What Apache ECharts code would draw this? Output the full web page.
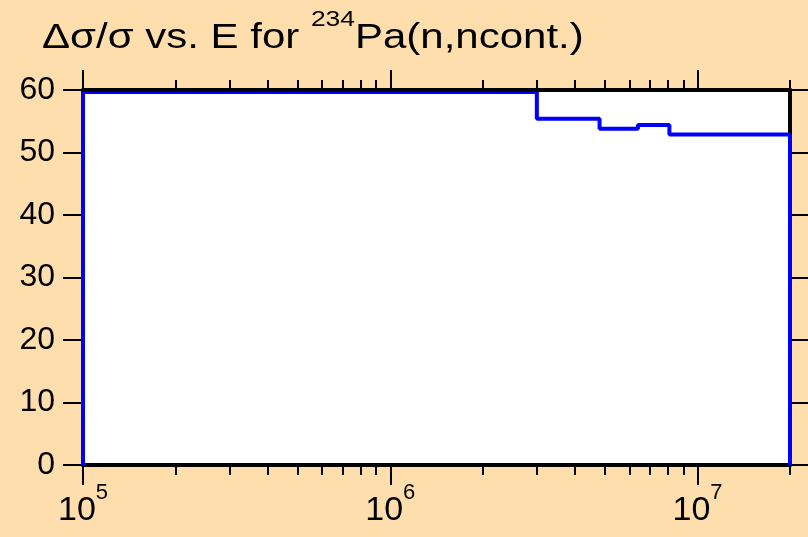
<!DOCTYPE html>
<html>
<head>
<meta charset="utf-8">
<script src="https://cdn.jsdelivr.net/npm/echarts@6/dist/echarts.min.js"></script>
<style>
  html, body { margin: 0; padding: 0; background: #ffdead; }
  #chart { width: 808px; height: 537px; }
</style>
</head>
<body>
<div id="chart"></div>
<script>
// bin edges (eV) and relative uncertainty (%) per bin
const energyEdges = [1e5, 3e6, 4.8e6, 6.4e6, 8.1e6, 2e7];
const relUncert = [59.7, 55.4, 53.8, 54.4, 52.9];

const majorTicks = [1e5, 1e6, 1e7];
const minorTicks = [2e5, 3e5, 4e5, 5e5, 6e5, 7e5, 8e5, 9e5,
  2e6, 3e6, 4e6, 5e6, 6e6, 7e6, 8e6, 9e6, 2e7];
const yTicks = [0, 10, 20, 30, 40, 50, 60];

const FONT = 'Liberation Sans, Arial, sans-serif';

// step outline: closed at both ends down to zero
const stepData = [[energyEdges[0], 0]];
relUncert.forEach((v, i) => stepData.push([energyEdges[i], v]));
stepData.push([energyEdges[energyEdges.length - 1], relUncert[relUncert.length - 1]]);
stepData.push([energyEdges[energyEdges.length - 1], 0]);

const chart = echarts.init(document.getElementById('chart'));

function logAxis(pos, ticks, len, showLine, labels) {
  return {
    type: 'log',
    logBase: 10,
    position: pos,
    min: energyEdges[0],
    max: energyEdges[energyEdges.length - 1],
    z: pos === 'top' ? 5 : 0,
    axisLine: { show: showLine, onZero: false, lineStyle: { color: '#000', width: 4 } },
    axisTick: { show: true, inside: false, length: len, customValues: ticks,
      lineStyle: { color: '#000', width: 2 } },
    axisLabel: labels ? {
      customValues: majorTicks,
      margin: 17,
      color: '#000',
      fontFamily: FONT,
      formatter: v => '{b|10}{s|' + Math.round(Math.log10(v)) + '}',
      rich: {
        b: { fontSize: 34, fontFamily: FONT, color: '#000', verticalAlign: 'bottom', lineHeight: 46 },
        s: { fontSize: 22, fontFamily: FONT, color: '#000', verticalAlign: 'top', lineHeight: 22 }
      }
    } : { show: false },
    splitLine: { show: false }
  };
}

function valAxis(pos, len, labels) {
  return {
    type: 'value',
    position: pos,
    min: yTicks[0],
    max: yTicks[yTicks.length - 1],
    interval: 10,
    z: 0,
    axisLine: { show: true, lineStyle: { color: '#000', width: 4 } },
    axisTick: { show: true, inside: false, length: len, lineStyle: { color: '#000', width: 2 } },
    axisLabel: labels ? { show: true, margin: 28, fontSize: 32, fontFamily: FONT, color: '#000' } : { show: false },
    splitLine: { show: false }
  };
}

const option = {
  backgroundColor: '#ffdead',
  animation: false,
  graphic: [{
    type: 'text',
    x: 42,
    y: 9,
    scaleX: 1.2,
    style: {
      text: '{a|Δσ/σ vs. E for }{s|234}{a|Pa(n,ncont.)}',
      fill: '#000',
      rich: {
        a: { fontSize: 35, fontFamily: FONT, fill: '#000', verticalAlign: 'bottom', lineHeight: 47 },
        s: { fontSize: 22, fontFamily: FONT, fill: '#000', verticalAlign: 'top', lineHeight: 22 }
      }
    }
  }],
  grid: {
    left: 83, right: 18, top: 90, bottom: 72,
    show: true, backgroundColor: '#fff', borderWidth: 0
  },
  xAxis: [
    logAxis('bottom', majorTicks, 20, true, true),
    logAxis('bottom', minorTicks, 10, false, false),
    logAxis('top', majorTicks, 20, true, false),
    logAxis('top', minorTicks, 10, false, false)
  ],
  yAxis: [
    valAxis('left', 20, true),
    valAxis('right', 18, false)
  ],
  series: [{
    type: 'line',
    step: 'end',
    data: stepData,
    symbol: 'none',
    z: 2,
    lineStyle: { color: '#0000ff', width: 4 }
  }]
};

chart.setOption(option);
</script>
</body>
</html>
